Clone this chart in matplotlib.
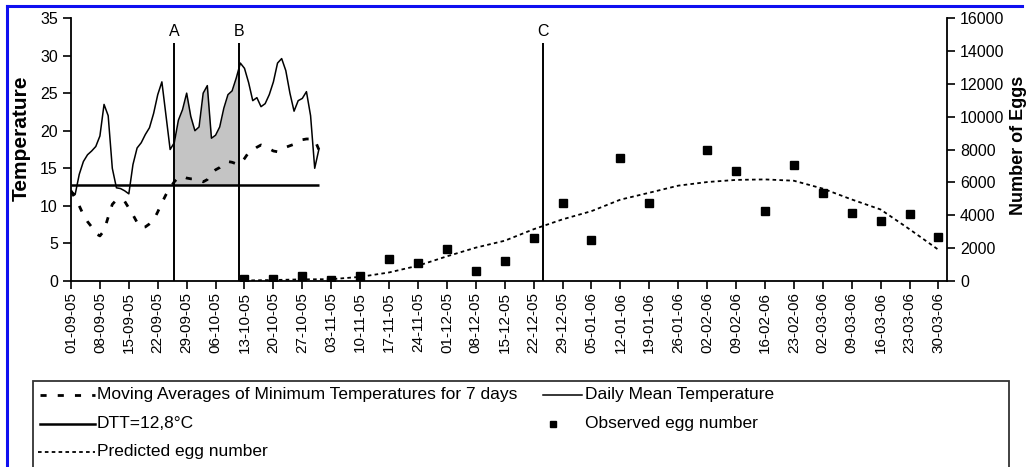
import matplotlib
matplotlib.use('Agg')
import matplotlib.pyplot as plt
from matplotlib.lines import Line2D
from matplotlib.patches import Rectangle
import numpy as np
import datetime as dt

plt.rcParams['font.family'] = ['Liberation Sans', 'DejaVu Sans']

# ---------------- data ----------------
start_date = dt.date(2005, 9, 1)
temp_days = list(range(61))
daily_mean = [12.0, 11.5, 14.2, 15.9, 16.8, 17.3, 17.9, 19.3, 23.5, 22.0,
              15.0, 12.4, 12.3, 12.0, 11.6, 15.5, 17.7, 18.4, 19.5, 20.4,
              22.3, 24.8, 26.5, 22.0, 17.5, 18.4, 21.4, 22.8, 25.0, 21.9,
              20.0, 20.5, 25.0, 26.0, 19.0, 19.4, 20.5, 23.0, 24.8, 25.3,
              27.0, 29.0, 28.3, 26.4, 24.0, 24.4, 23.2, 23.6, 24.8, 26.5,
              29.0, 29.6, 28.0, 25.0, 22.6, 24.0, 24.3, 25.2, 22.0, 15.0,
              17.5]
ma_min = [12.0, 11.0, 10.0, 8.8, 7.9, 7.2, 6.3, 6.0, 6.7, 8.5,
          10.2, 10.8, 10.8, 10.6, 9.7, 8.8, 7.8, 7.1, 7.2, 7.6,
          8.1, 9.2, 10.4, 11.5, 12.4, 13.2, 13.8, 13.9, 13.7, 13.6,
          13.6, 13.4, 13.2, 13.5, 14.3, 14.8, 15.1, 15.6, 15.9, 15.8,
          15.6, 15.6, 16.3, 17.1, 17.4, 17.8, 18.1, 17.9, 17.6, 17.3,
          17.2, 17.4, 17.8, 18.0, 18.2, 18.5, 18.8, 18.9, 18.9, 18.8,
          17.5]
dtt = 12.8
event_names = ['A', 'B', 'C']
event_days = [25.0, 40.7, 114.3]

obs_days = [42, 49, 56, 63, 70, 77, 84, 91, 98, 105, 112, 119, 126, 133, 140,
            154, 161, 168, 175, 182, 189, 196, 203, 210]
obs_eggs = [150, 150, 330, 60, 300, 1320, 1080, 1970, 610, 1220, 2640, 4720,
            2490, 7500, 4720, 7940, 6720, 4230, 7030, 5330, 4150, 3650, 4090, 2700]
pred_days = [42, 49, 56, 63, 70, 77, 84, 91, 98, 105, 112, 119, 126, 133, 140,
             147, 154, 161, 168, 175, 182, 189, 196, 203, 210]
pred_eggs = [30, 60, 100, 110, 250, 520, 930, 1500, 2030, 2450, 3150, 3750,
             4250, 4950, 5370, 5800, 6020, 6150, 6180, 6100, 5620, 4960, 4350,
             3150, 1900]

tick_days = list(range(0, 211, 7))
tick_labels = [(start_date + dt.timedelta(days=d)).strftime('%d-%m-%y') for d in tick_days]
temp_ticks = [0, 5, 10, 15, 20, 25, 30, 35]
egg_ticks = list(range(0, 16001, 2000))

# ---------------- figure ----------------
W, H = 1026, 467
fig = plt.figure(figsize=(W / 100, H / 100), dpi=100)
ax = fig.add_axes([71 / W, 1 - 281 / H, (946.7 - 71) / W, (281 - 18) / H])

fs = 11.5
# shaded area between A and B
xf = np.linspace(event_days[0], event_days[1], 300)
yf = np.interp(xf, temp_days, daily_mean)
ax.fill_between(xf, dtt, yf, color='#c4c4c4', linewidth=0, zorder=1)

ax.plot(temp_days, daily_mean, color='black', lw=1.1, zorder=3)
ax.plot(temp_days, ma_min, color='black', lw=2.0, linestyle=(0, (2.2, 4.0)), zorder=3)
ax.hlines(dtt, temp_days[0], temp_days[-1], color='black', lw=1.8, zorder=3)
ax.vlines(event_days, 0, 31.7, color='black', lw=1.4, zorder=3)
for name, d in zip(event_names, event_days):
    ax.text(d, 33.2, name, ha='center', va='center', fontsize=fs)

ax.set_xlim(0, 212)
ax.set_ylim(0, 35)
ax.set_xticks(tick_days)
ax.set_xticklabels(tick_labels, rotation=90, fontsize=11)
ax.set_yticks(temp_ticks)
ax.tick_params(axis='y', labelsize=fs, length=6, width=1.2, direction='out')
ax.tick_params(axis='x', length=6, width=1.2, direction='out', pad=2)
ax.spines['top'].set_visible(False)
ax.spines['right'].set_visible(False)
for s in ['left', 'bottom']:
    ax.spines[s].set_linewidth(1.3)
ax.set_ylabel('Temperature', fontsize=15, fontweight='bold')
ax.yaxis.set_label_coords(-0.0465, 0.544)

ax2 = ax.twinx()
ax2.plot(pred_days, pred_eggs, color='black', lw=1.3, linestyle=(0, (2.0, 1.8)), zorder=3)
ax2.plot(obs_days, obs_eggs, linestyle='none', marker='s', markersize=5.2,
         color='black', zorder=4)
ax2.set_ylim(0, 16000)
ax2.set_yticks(egg_ticks)
ax2.tick_params(axis='y', labelsize=fs, length=6, width=1.2, direction='out')
for s in ['top', 'left', 'bottom']:
    ax2.spines[s].set_visible(False)
ax2.spines['right'].set_linewidth(1.3)
ax2.set_ylabel('Number of Eggs', fontsize=13, fontweight='bold')
ax2.yaxis.set_label_coords(1.0718, 0.515)
ax2.set_xlim(0, 212)

# ---------------- legend (manual box) ----------------
def fx(px):
    return px / W

def fy(py):
    return 1 - py / H

fig.add_artist(Rectangle((fx(33), fy(470)), fx(1009) - fx(33), fy(381) - fy(470),
                         transform=fig.transFigure, fill=False, edgecolor='#333333', lw=1.3))
rows = [395, 423.5, 451.5]
lfs = 12.5
fig.add_artist(Line2D([fx(40), fx(95)], [fy(rows[0])] * 2, transform=fig.transFigure,
                      color='black', lw=2.0, linestyle=(0, (2.2, 4.0))))
fig.text(fx(97), fy(rows[0]), 'Moving Averages of Minimum Temperatures for 7 days',
         fontsize=lfs, va='center', ha='left')
fig.add_artist(Line2D([fx(40), fx(95)], [fy(rows[1])] * 2, transform=fig.transFigure,
                      color='black', lw=1.8))
fig.text(fx(97), fy(rows[1]), 'DTT=12,8°C', fontsize=lfs, va='center', ha='left')
fig.add_artist(Line2D([fx(38), fx(95)], [fy(rows[2])] * 2, transform=fig.transFigure,
                      color='black', lw=1.3, linestyle=(0, (2.0, 1.8))))
fig.text(fx(97), fy(rows[2]), 'Predicted egg number', fontsize=lfs, va='center', ha='left')
fig.add_artist(Line2D([fx(543), fx(582)], [fy(rows[0])] * 2, transform=fig.transFigure,
                      color='black', lw=1.1))
fig.text(fx(585), fy(rows[0]), 'Daily Mean Temperature', fontsize=lfs, va='center', ha='left')
fig.add_artist(Line2D([fx(553)], [fy(rows[1])], transform=fig.transFigure,
                      color='black', marker='s', markersize=4, linestyle='none'))
fig.text(fx(585), fy(rows[1]), 'Observed egg number', fontsize=lfs, va='center', ha='left')

# blue frame
fig.add_artist(Line2D([fx(7), fx(1022)], [fy(6), fy(6)], transform=fig.transFigure,
                      color='#1010f0', lw=2.2))
fig.add_artist(Line2D([fx(7), fx(7)], [fy(6), fy(470)], transform=fig.transFigure,
                      color='#1010f0', lw=2.2))

fig.savefig('out.png', dpi=100)
